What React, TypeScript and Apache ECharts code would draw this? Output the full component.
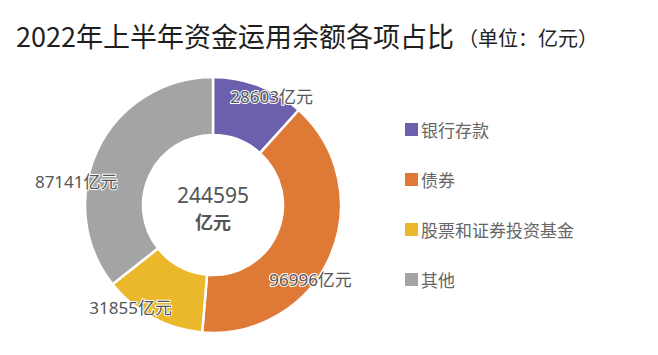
import React, { useEffect, useRef } from "react";
import * as echarts from "echarts";

const categories = ["银行存款", "债券", "股票和证券投资基金", "其他"];
const values = [28603, 96996, 31855, 87141];
const colors = ["#6a60ad", "#df7a36", "#ebb82b", "#a4a4a4"];
const total = 244595;
const unit = "亿元";
const labelShift = [
  [22, -13],
  [4, 34],
  [-34, 13],
  [-45, 21],
];

export default function App() {
  const ref = useRef<HTMLDivElement>(null);
  useEffect(() => {
    if (!ref.current) return;
    const chart = echarts.init(ref.current, null, { renderer: "svg" });
    chart.setOption({
      animation: false,
      title: {
        text: "2022年上半年资金运用余额各项占比{s|（单位：亿元）}",
        left: 3,
        top: 9,
        textStyle: {
          fontFamily: "'Noto Sans CJK SC', sans-serif",
          fontSize: 27,
          fontWeight: "normal",
          color: "#1e1e1e",
          rich: {
            s: {
              fontFamily: "'Noto Sans CJK SC', sans-serif",
              fontSize: 20,
              color: "#222",
              padding: [4, 0, 0, 4],
            },
          },
        },
      },
      legend: {
        orient: "vertical",
        left: 390,
        top: 108,
        itemWidth: 15,
        itemHeight: 15,
        itemGap: 33,
        icon: "rect",
        data: categories,
        textStyle: {
          fontFamily: "'Noto Sans CJK SC', sans-serif",
          fontSize: 17,
          color: "#666",
          padding: [0, 0, 0, -3],
        },
      },
      graphic: [
        {
          type: "text",
          x: 205,
          y: 187,
          style: {
            text: String(total),
            align: "center",
            verticalAlign: "middle",
            fontFamily: "'Noto Sans', sans-serif",
            fontSize: 21,
            lineHeight: 22,
            fill: "#555",
          },
        },
        {
          type: "text",
          x: 205,
          y: 213,
          style: {
            text: unit,
            align: "center",
            verticalAlign: "middle",
            fontFamily: "'Noto Sans CJK SC', sans-serif",
            fontSize: 18,
            lineHeight: 20,
            fontWeight: "bold",
            fill: "#555",
          },
        },
      ],
      series: [
        {
          type: "pie",
          center: [205, 197],
          radius: [70, 128],
          startAngle: 90,
          clockwise: true,
          itemStyle: { borderColor: "#fff", borderWidth: 2.5 },
          label: {
            show: true,
            position: "inside",
            formatter: (p: any) => p.value + unit,
            fontFamily: "'Noto Sans', 'Noto Sans CJK SC', sans-serif",
            fontSize: 17,
            color: "#555",
            textBorderColor: "#fff",
            textBorderWidth: 2,
          },
          labelLayout: (p: any) => ({
            dx: labelShift[p.dataIndex][0],
            dy: labelShift[p.dataIndex][1],
          }),
          emphasis: { disabled: true },
          data: categories.map((c, i) => ({
            name: c,
            value: values[i],
            itemStyle: { color: colors[i] },
          })),
        },
      ],
    });
    return () => chart.dispose();
  }, []);
  return <div ref={ref} style={{ width: 642, height: 339 }} />;
}
